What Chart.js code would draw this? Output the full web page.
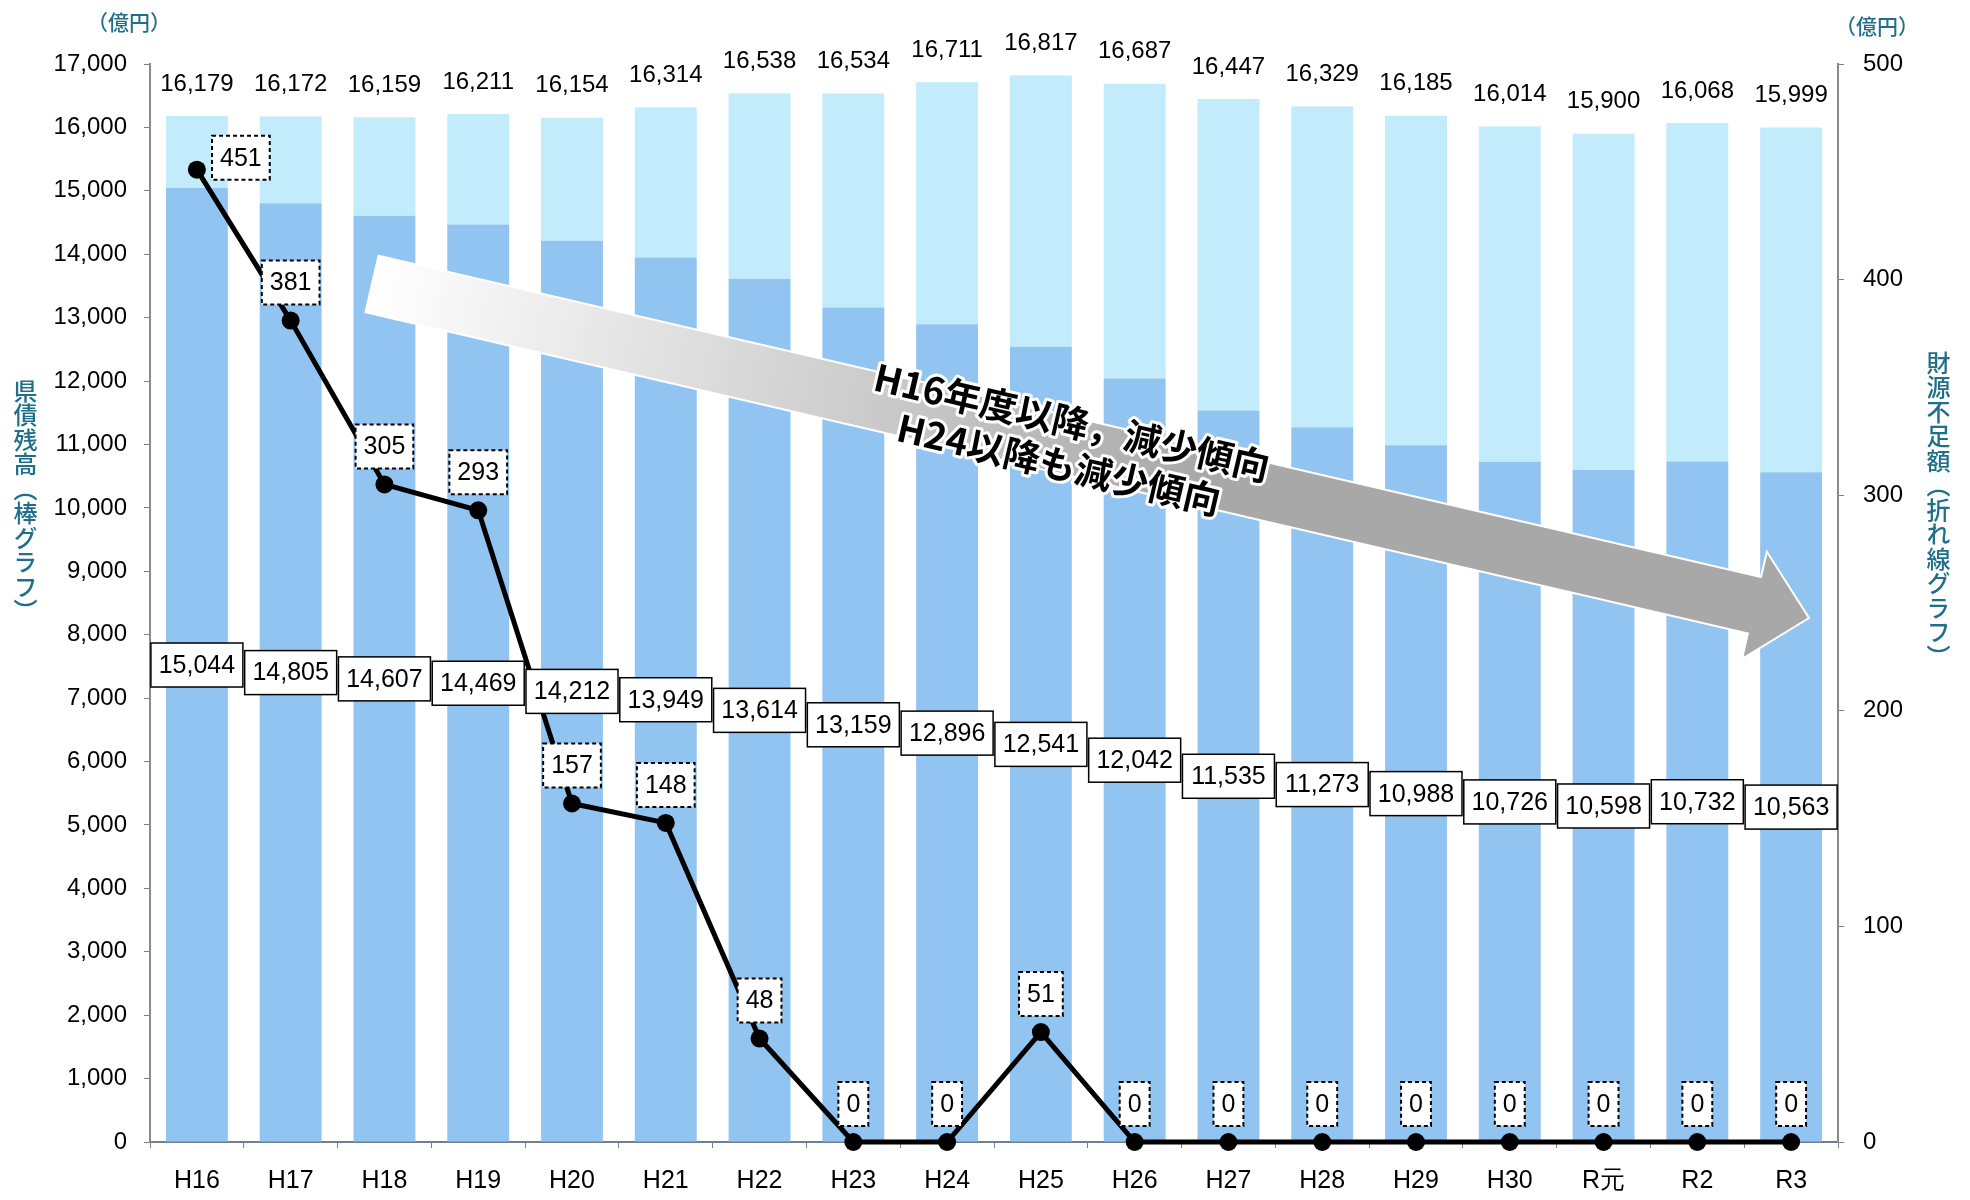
<!DOCTYPE html>
<html lang="ja">
<head>
<meta charset="utf-8">
<title>県債残高と財源不足額の推移</title>
<script src="https://cdn.jsdelivr.net/npm/chart.js@4.4.1/dist/chart.umd.min.js"></script>
<style>
  html, body { margin: 0; padding: 0; background: #fff; }
  #wrap { position: relative; width: 1970px; height: 1200px; overflow: hidden; }
  #c { position: absolute; left: 0; top: 0; }
  .unit, .vtitle {
    position: absolute; transform: translate(-50%, -50%);
    font-family: "Noto Sans CJK JP", sans-serif; color: #1f6f8b; line-height: 1; white-space: nowrap;
  }
  .unit { font-size: 21px; font-weight: 500; }
  .vtitle { font-size: 24px; font-weight: 500; writing-mode: vertical-rl; text-orientation: upright; letter-spacing: 0.5px; }
</style>
</head>
<body>
<div id="wrap">
  <canvas id="c" width="1970" height="1200"></canvas>
  <div class="unit" style="left:129px; top:21px;">（億円）</div>
  <div class="unit" style="left:1877px; top:25px;">（億円）</div>
  <div class="vtitle" style="left:25px; top:501px;">県債残高（棒グラフ）</div>
  <div class="vtitle" style="left:1938px; top:510px;">財源不足額（折れ線グラフ）</div>
</div>
<script>
// 年度
const years = ['H16','H17','H18','H19','H20','H21','H22','H23','H24','H25','H26','H27','H28','H29','H30','R元','R2','R3'];
// 県債残高（全体）
const totalBalance = [16179,16172,16159,16211,16154,16314,16538,16534,16711,16817,16687,16447,16329,16185,16014,15900,16068,15999];
// 県債残高（うち下段）
const baseBalance = [15044,14805,14607,14469,14212,13949,13614,13159,12896,12541,12042,11535,11273,10988,10726,10598,10732,10563];
// 財源不足額
const shortfall = [451,381,305,293,157,148,48,0,0,51,0,0,0,0,0,0,0,0];
// 軸目盛
const leftTicks = [0,1000,2000,3000,4000,5000,6000,7000,8000,9000,10000,11000,12000,13000,14000,15000,16000,17000];
const rightTicks = [0,100,200,300,400,500];
// 矢印の注記
const trendLines = ['H16年度以降，減少傾向', 'H24以降も減少傾向'];

const upperBalance = totalBalance.map((t, i) => t - baseBalance[i]);
const fmt = v => v.toLocaleString('en-US');
const NUM_FONT = '"Liberation Sans", Arial, sans-serif';

function drawTrendArrow(ctx) {
  const sx = 372, sy = 284, tx = 1809, ty = 618;
  const ang = Math.atan2(ty - sy, tx - sx);
  const len = Math.hypot(tx - sx, ty - sy);
  const half = 29, headHalf = 55, headLen = 56;
  ctx.save();
  ctx.translate(sx, sy);
  ctx.rotate(ang);
  ctx.beginPath();
  ctx.moveTo(0, -half);
  ctx.lineTo(len - headLen, -half);
  ctx.lineTo(len - headLen, -headHalf);
  ctx.lineTo(len, 0);
  ctx.lineTo(len - headLen, headHalf);
  ctx.lineTo(len - headLen, half);
  ctx.lineTo(0, half);
  ctx.closePath();
  const g = ctx.createLinearGradient(0, 0, len * 0.58, 0);
  g.addColorStop(0, '#ffffff');
  g.addColorStop(1, '#a8a8a8');
  ctx.fillStyle = g;
  ctx.fill();
  ctx.lineWidth = 2;
  ctx.strokeStyle = '#ffffff';
  ctx.stroke();

  ctx.font = 'bold 37px "Noto Sans CJK JP", sans-serif';
  ctx.textAlign = 'center';
  ctx.textBaseline = 'middle';
  ctx.lineJoin = 'round';
  const pos = [[713, -24], [710, 20]];
  trendLines.forEach((t, i) => {
    ctx.lineWidth = 6;
    ctx.strokeStyle = '#ffffff';
    ctx.strokeText(t, pos[i][0], pos[i][1]);
    ctx.fillStyle = '#000000';
    ctx.fillText(t, pos[i][0], pos[i][1]);
  });
  ctx.restore();
}

const valueLabels = {
  id: 'valueLabels',
  afterDatasetsDraw(chart) {
    const ctx = chart.ctx;
    const xs = chart.scales.x, ys = chart.scales.y, ys2 = chart.scales.y1;
    drawTrendArrow(ctx);

    ctx.save();
    ctx.textAlign = 'center';
    ctx.textBaseline = 'middle';
    years.forEach((_, i) => {
      const x = xs.getPixelForValue(i);
      // 全体額（棒の上）
      ctx.font = '24px ' + NUM_FONT;
      ctx.fillStyle = '#000';
      ctx.fillText(fmt(totalBalance[i]), x, ys.getPixelForValue(totalBalance[i]) - 32);
      // 下段の額（枠付き）
      const by = ys.getPixelForValue(baseBalance[i] / 2);
      const w = 92, h = 44;
      ctx.fillStyle = '#fff';
      ctx.fillRect(x - w / 2, by - h / 2, w, h);
      ctx.lineWidth = 1.5;
      ctx.strokeStyle = '#000';
      ctx.setLineDash([]);
      ctx.strokeRect(x - w / 2, by - h / 2, w, h);
      ctx.font = '25px ' + NUM_FONT;
      ctx.fillStyle = '#000';
      ctx.fillText(fmt(baseBalance[i]), x, by + 1);
    });

    // 財源不足額（破線枠）
    ctx.font = '25px ' + NUM_FONT;
    years.forEach((_, i) => {
      const px = xs.getPixelForValue(i);
      const py = ys2.getPixelForValue(shortfall[i]);
      const txt = String(shortfall[i]);
      const tw = ctx.measureText(txt).width;
      const w = tw + 16, h = 44;
      const cx = i === 0 ? px + 44 : px;
      const cy = i === 0 ? py - 12 : py - 38;
      ctx.fillStyle = '#fff';
      ctx.fillRect(cx - w / 2, cy - h / 2, w, h);
      ctx.setLineDash([4, 3]);
      ctx.lineWidth = 2;
      ctx.strokeStyle = '#000';
      ctx.strokeRect(cx - w / 2, cy - h / 2, w, h);
      ctx.setLineDash([]);
      ctx.fillStyle = '#000';
      ctx.fillText(txt, cx, cy + 1);
    });
    ctx.restore();
  }
};

new Chart(document.getElementById('c'), {
  data: {
    labels: years,
    datasets: [
      {
        type: 'line',
        label: '財源不足額',
        data: shortfall,
        yAxisID: 'y1',
        borderColor: '#000',
        backgroundColor: '#000',
        borderWidth: 5,
        pointRadius: 9,
        pointHoverRadius: 9,
        pointBackgroundColor: '#000',
        pointBorderWidth: 0,
        tension: 0,
        clip: false,
        order: 0
      },
      {
        type: 'bar',
        label: '県債残高',
        data: baseBalance,
        yAxisID: 'y',
        backgroundColor: '#92c4f2',
        borderWidth: 0,
        stack: 'bal',
        categoryPercentage: 1,
        barPercentage: 0.66,
        order: 2
      },
      {
        type: 'bar',
        label: '県債残高（上段）',
        data: upperBalance,
        yAxisID: 'y',
        backgroundColor: '#c2ebfc',
        borderWidth: 0,
        stack: 'bal',
        categoryPercentage: 1,
        barPercentage: 0.66,
        order: 2
      }
    ]
  },
  options: {
    responsive: false,
    animation: false,
    devicePixelRatio: 1,
    layout: { padding: { top: 64, left: 0, right: 0, bottom: 0 } },
    plugins: { legend: { display: false }, tooltip: { enabled: false } },
    scales: {
      x: {
        stacked: true,
        offset: true,
        grid: { display: true, drawOnChartArea: false, drawTicks: true, tickLength: 6, color: '#808080', offset: true },
        border: { display: true, color: '#6f7f8f', width: 2 },
        ticks: { color: '#000', font: { size: 25, family: NUM_FONT }, padding: 18, maxRotation: 0, autoSkip: false },
        afterFit(s) { s.height = 58; }
      },
      y: {
        stacked: true,
        position: 'left',
        min: 0, max: 17000,
        afterBuildTicks(s) { s.ticks = leftTicks.map(v => ({ value: v })); },
        grid: { display: true, drawOnChartArea: false, drawTicks: true, tickLength: 6, color: '#808080' },
        border: { display: true, color: '#8a8a8a', width: 2 },
        ticks: { color: '#000', font: { size: 24, family: NUM_FONT }, padding: 17, callback: v => fmt(v) },
        afterFit(s) { s.width = 150; }
      },
      y1: {
        position: 'right',
        min: 0, max: 500,
        afterBuildTicks(s) { s.ticks = rightTicks.map(v => ({ value: v })); },
        grid: { display: true, drawOnChartArea: false, drawTicks: true, tickLength: 6, color: '#808080' },
        border: { display: true, color: '#8a8a8a', width: 2 },
        ticks: { color: '#000', font: { size: 24, family: NUM_FONT }, padding: 19 },
        afterFit(s) { s.width = 132; }
      }
    }
  },
  plugins: [valueLabels]
});
</script>
</body>
</html>
